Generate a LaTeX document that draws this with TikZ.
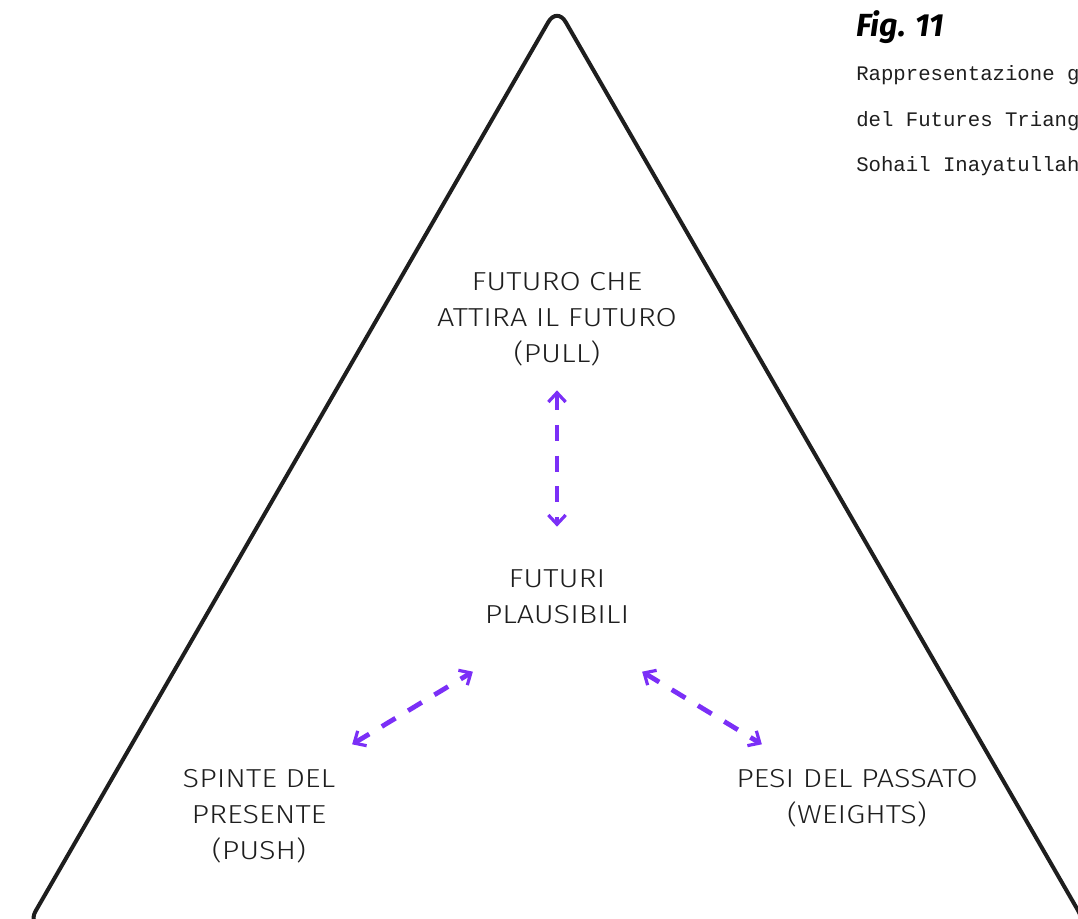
\documentclass[tikz,border=0pt]{standalone}
\usepackage{fontspec}
\setmainfont{Fira Sans Light}[FakeStretch=1.18]
\newfontfamily\capfont{Fira Sans}
\setmonofont{Liberation Mono}
\usetikzlibrary{arrows.meta}
\definecolor{linkpurple}{RGB}{123,47,247}
\definecolor{inkdark}{RGB}{30,30,30}
\begin{document}
\begin{tikzpicture}[x=0.75pt,y=-0.75pt,
  label/.style={align=center,font=\fontsize{19.5}{27}\selectfont,text=inkdark,inner sep=0pt},
  tri/.style={draw=inkdark,line width=3pt,rounded corners=13,line join=round},
  link/.style={draw=linkpurple,line width=3.6pt,dash pattern=on 12pt off 11pt,
    {Straight Barb[length=7pt,width=13pt,line width=2.4pt]}-{Straight Barb[length=7pt,width=13pt,line width=2.4pt]},
    shorten <=1pt, shorten >=1pt},
  caption/.style={anchor=west,font=\ttfamily\fontsize{15.5}{34}\selectfont,text=inkdark,inner sep=0pt}]
\useasboundingbox (0,0) rectangle (1078,919);
\clip (0,0) rectangle (1078,919);

% the triangle
\draw[tri] (557,7) -- (1087,926) -- (27,926) -- cycle;

% labels
\node[label] (pull) at (557,319) {FUTURO CHE\\ATTIRA IL FUTURO\\(PULL)};
\node[label] (plaus) at (557,597) {FUTURI\\PLAUSIBILI};
\node[label] (push) at (259,816) {SPINTE DEL\\PRESENTE\\(PUSH)};
\node[label] (weights) at (857,798) {PESI DEL PASSATO\\(WEIGHTS)};

% arrow end points
\coordinate (pullEnd) at (557,389);
\coordinate (plausTop) at (557,528);
\coordinate (plausLeft) at (474,671);
\coordinate (pushEnd) at (351,745);
\coordinate (plausRight) at (641,671);
\coordinate (weightsEnd) at (763,745);

\draw[link] (pullEnd) -- (plausTop);
\draw[link] (pushEnd) -- (plausLeft);
\draw[link] (plausRight) -- (weightsEnd);

% caption
\node[anchor=base west,inner sep=0pt,font=\capfont\bfseries\itshape\fontsize{24}{28}\selectfont,text=black] (fig) at (856,37) {Fig. 11};
\node[caption] (cap1) at (856,75) {Rappresentazione grafica};
\node[caption] (cap2) at (856,121) {del Futures Triangle di};
\node[caption] (cap3) at (856,166) {Sohail Inayatullah};
\end{tikzpicture}
\end{document}
